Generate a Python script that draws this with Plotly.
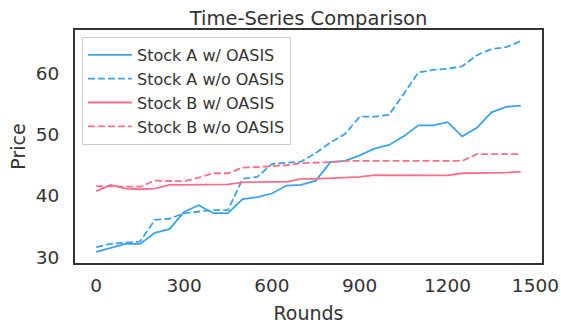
import plotly.graph_objects as go

rounds = [i * 50 for i in range(30)]

stock_a_with = [30.9, 31.6, 32.2, 32.2, 34.0, 34.6, 37.4, 38.5, 37.2, 37.2,
                39.5, 39.8, 40.4, 41.7, 41.8, 42.5, 45.5, 45.7, 46.6, 47.7,
                48.3, 49.7, 51.5, 51.5, 52.0, 49.7, 51.1, 53.6, 54.5, 54.7]
stock_a_without = [31.7, 32.2, 32.4, 32.6, 36.1, 36.3, 37.2, 37.5, 37.7, 37.7,
                   42.8, 43.1, 45.2, 45.4, 45.6, 47.0, 48.7, 50.1, 52.9, 52.9,
                   53.2, 56.6, 60.1, 60.5, 60.7, 61.1, 62.9, 63.9, 64.2, 65.2]
stock_b_with = [40.8, 41.8, 41.2, 41.1, 41.2, 41.8, 41.8, 41.8, 41.9, 41.9,
                42.2, 42.3, 42.3, 42.3, 42.8, 42.8, 42.9, 42.9, 43.1, 43.4,
                43.4, 43.4, 43.4, 43.35, 43.35, 43.7, 43.7, 43.7, 43.8, 43.95]
stock_b_without = [41.6, 41.6, 41.5, 41.5, 42.5, 42.4, 42.4, 43.0, 43.7, 43.7,
                   44.6, 44.7, 44.8, 45.0, 45.35, 45.4, 45.5, 45.7, 45.7, 45.8,
                   45.8, 45.8, 45.7, 45.7, 45.7, 45.7, 46.8, 46.8, 46.8, 46.8]

x_ticks = [0, 300, 600, 900, 1200, 1500]
y_ticks = [30, 40, 50, 60]

BLUE = "#3ba3ec"
PINK = "#f77189"
TXT = "#333333"
FONT = "DejaVu Sans"

series = [
    ("Stock A w/ OASIS", stock_a_with, BLUE, "solid"),
    ("Stock A w/o OASIS", stock_a_without, BLUE, "7px,3px"),
    ("Stock B w/ OASIS", stock_b_with, PINK, "solid"),
    ("Stock B w/o OASIS", stock_b_without, PINK, "7px,3px"),
]

fig = go.Figure()
for name, vals, color, dash in series:
    fig.add_trace(go.Scatter(
        x=rounds, y=vals, mode="lines", name=name,
        line=dict(color=color, width=1.8, dash=dash),
    ))

axis_common = dict(
    showgrid=False, zeroline=False, showline=True, mirror=True,
    linecolor="#333333", linewidth=2.2, ticks="", automargin=False,
    tickfont=dict(family=FONT, size=18.5, color=TXT),
)

fig.update_layout(
    width=561, height=324,
    margin=dict(l=75, r=19, t=30, b=61),
    paper_bgcolor="white", plot_bgcolor="white",
    font=dict(family=FONT, color=TXT),
    title=dict(text="Time-Series Comparison", x=(75 + 542) / 2 / 561, xanchor="center",
               xref="container", y=1 - 18 / 324, yanchor="middle", yref="container",
               font=dict(family=FONT, size=19.5, color=TXT)),
    xaxis=dict(range=[-72.5, 1522.5], tickvals=x_ticks,
               title=dict(text="Rounds", font=dict(family=FONT, size=19, color=TXT), standoff=19),
               ticklabelstandoff=5, **axis_common),
    yaxis=dict(range=[29.1, 67.0], tickvals=y_ticks,
               title=dict(text="Price", font=dict(family=FONT, size=19, color=TXT), standoff=5),
               ticklabelstandoff=10, **axis_common),
    legend=dict(x=0.015, y=0.97, xanchor="left", yanchor="top",
                bgcolor="rgba(255,255,255,0.85)", bordercolor="#cccccc", borderwidth=1,
                font=dict(family=FONT, size=16, color=TXT),
                itemwidth=44),
    showlegend=True,
)

fig.write_html("out.html")
